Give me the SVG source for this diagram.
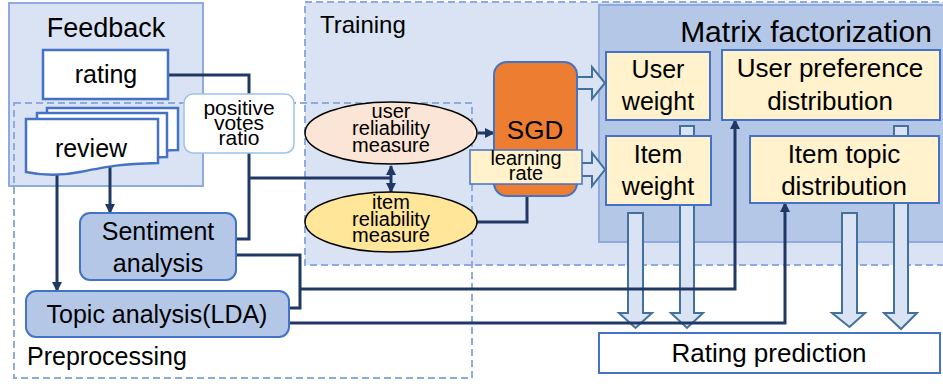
<svg xmlns="http://www.w3.org/2000/svg" width="943" height="386" viewBox="0 0 943 386">
<style>
text{font-family:"Liberation Sans",Arial,sans-serif;fill:#000;text-anchor:middle}
.dash{fill:none;stroke:#8faadc;stroke-width:2;stroke-dasharray:7 4}
.conn{fill:none;stroke:#203864;stroke-width:3}
.hollow{fill:#dae3f3;stroke:#41719c;stroke-width:2;stroke-linejoin:miter}
.yel{fill:#fff2cc;stroke:#4472c4;stroke-width:2}
.blue{fill:#b4c7e7;stroke:#4472c4;stroke-width:2}
.doc{fill:#fff;stroke:#4472c4;stroke-width:2.5}
.ell{font-size:20px}
</style>
<defs>
<marker id="ah" markerUnits="userSpaceOnUse" markerWidth="10" markerHeight="10" refX="9" refY="5" orient="auto-start-reverse"><path d="M0,0 L10,5 L0,10 z" fill="#203864"/></marker>
</defs>

<!-- backgrounds -->
<g id="training">
<rect x="305" y="2" width="650" height="263" fill="#dae3f3"/>
<rect x="305" y="2" width="650" height="263" class="dash"/>
<text x="320" y="33" font-size="24" style="text-anchor:start">Training</text>
</g>
<g id="feedback">
<rect x="9" y="3" width="194" height="183" fill="#dae3f3" stroke="#8faadc" stroke-width="2"/>
<text x="106" y="37" font-size="27">Feedback</text>
</g>
<g id="matrix-factorization">
<rect x="599" y="5" width="350" height="237" fill="#b4c7e7" stroke="#8faadc" stroke-width="2"/>
<text x="806" y="42" font-size="30">Matrix factorization</text>
</g>
<g id="preprocessing">
<rect x="14" y="103" width="458" height="275" class="dash"/>
<text x="27" y="365" font-size="25" style="text-anchor:start">Preprocessing</text>
</g>

<!-- hollow arrows -->
<g id="hollow-arrows">
<polygon class="hollow" points="577,77 592,77 592,67 605,83 592,99 592,89 577,89"/>
<polygon class="hollow" points="577,163 592,163 592,153 605,169.5 592,186 592,176 577,176"/>
<polygon class="hollow" points="628,213 643,213 643,313 652,313 635.5,328 619,313 628,313"/>
<polygon class="hollow" points="680,126 694,126 694,313 703,313 687,328 671,313 680,313"/>
<polygon class="hollow" points="842,213 857,213 857,313 865,313 849.5,327 832,313 842,313"/>
<polygon class="hollow" points="894,126 908,126 908,313 917,313 901,329 884,313 894,313"/>
</g>

<!-- connectors -->
<g id="connectors">
<path class="conn" d="M168,75 H249 V239 H237"/>
<path class="conn" d="M249,178 H391"/>
<path class="conn" d="M391,166 V192" marker-start="url(#ah)" marker-end="url(#ah)"/>
<path class="conn" d="M478,133 H494" marker-end="url(#ah)"/>
<path class="conn" d="M477,222 H527 V184" marker-end="url(#ah)"/>
<path class="conn" d="M110,167 V213" marker-end="url(#ah)"/>
<path class="conn" d="M57,173 V291" marker-end="url(#ah)"/>
<path class="conn" d="M237,255 H300 V308 H290"/>
<path class="conn" d="M300,289 H735 V120" marker-end="url(#ah)"/>
<path class="conn" d="M290,323 H785 V203" marker-end="url(#ah)"/>
</g>

<!-- nodes -->
<g id="rating">
<rect x="43" y="50" width="125" height="49" fill="#fff" stroke="#4472c4" stroke-width="2.5"/>
<text x="106" y="83" font-size="25">rating</text>
</g>
<g id="positive-votes-ratio">
<rect x="184" y="94" width="110" height="59" rx="9" fill="#fff" stroke="#9dc3e6" stroke-width="1.5"/>
<text x="239" y="115" font-size="21">positive</text>
<text x="239" y="130" font-size="21">votes</text>
<text x="239" y="145" font-size="21">ratio</text>
</g>
<g id="review">
<path class="doc" d="M47,108 H178 V150 C160,150 150,153 140,155 L47,155 Z"/>
<path class="doc" d="M37,113 H167 V157 C150,157 140,160 125,163 L37,163 Z"/>
<path class="doc" d="M26,119 H158 V163 C120,164 110,166 80,172 C60,176 40,175 26,172 Z"/>
<text x="91" y="157" font-size="25">review</text>
</g>
<g id="sentiment-analysis">
<rect class="blue" x="80" y="213" width="156" height="67" rx="10"/>
<text x="158" y="240" font-size="25">Sentiment</text>
<text x="158" y="272" font-size="25">analysis</text>
</g>
<g id="topic-analysis">
<rect class="blue" x="26" y="291" width="263" height="46" rx="10"/>
<text x="157" y="323" font-size="25">Topic analysis(LDA)</text>
</g>
<g id="user-reliability">
<ellipse cx="391" cy="133" rx="86" ry="31" fill="#fbe5d6" stroke="#000" stroke-width="1.5"/>
<text class="ell" x="391" y="118">user</text>
<text class="ell" x="391" y="135">reliability</text>
<text class="ell" x="391" y="152">measure</text>
</g>
<g id="item-reliability">
<ellipse cx="391" cy="222" rx="86" ry="30" fill="#ffe699" stroke="#000" stroke-width="1.5"/>
<text class="ell" x="391" y="209">item</text>
<text class="ell" x="391" y="226">reliability</text>
<text class="ell" x="391" y="242">measure</text>
</g>
<g id="sgd">
<rect x="494" y="62" width="83" height="134" rx="13" fill="#ed7d31" stroke="#4472c4" stroke-width="2"/>
<text x="535" y="139" font-size="26">SGD</text>
</g>
<g id="learning-rate">
<rect x="470" y="150" width="112" height="34" fill="#fff2cc" stroke="#4472c4" stroke-width="1.5"/>
<text x="526" y="165" font-size="20">learning</text>
<text x="526" y="180" font-size="20">rate</text>
</g>
<g id="user-weight">
<rect class="yel" x="606" y="52" width="104" height="68"/>
<text x="658" y="78" font-size="25">User</text>
<text x="658" y="110" font-size="25">weight</text>
</g>
<g id="item-weight">
<rect class="yel" x="606" y="136" width="105" height="69"/>
<text x="658" y="163" font-size="25">Item</text>
<text x="658" y="195" font-size="25">weight</text>
</g>
<g id="user-preference">
<rect class="yel" x="722" y="50" width="218" height="70"/>
<text x="830" y="77" font-size="26">User preference</text>
<text x="830" y="110" font-size="26">distribution</text>
</g>
<g id="item-topic">
<rect class="yel" x="750" y="136" width="189" height="67"/>
<text x="844" y="163" font-size="26">Item topic</text>
<text x="844" y="195" font-size="26">distribution</text>
</g>
<g id="rating-prediction">
<rect x="599" y="333" width="341" height="40" fill="#fff" stroke="#4472c4" stroke-width="2"/>
<text x="769" y="362" font-size="26">Rating prediction</text>
</g>
</svg>
